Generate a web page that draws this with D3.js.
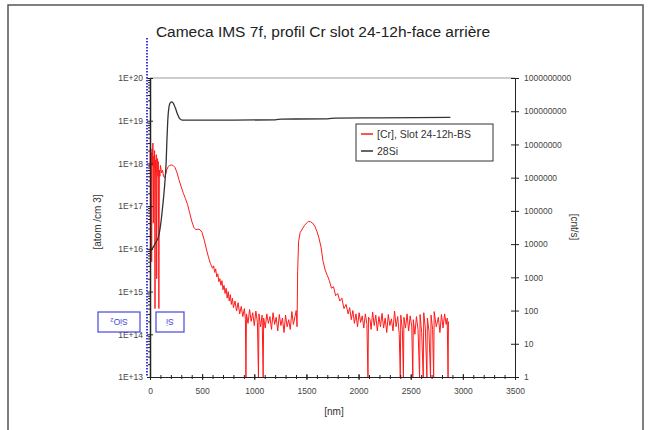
<!DOCTYPE html>
<html>
<head>
<meta charset="utf-8">
<script src="https://cdn.jsdelivr.net/npm/d3@7"></script>
<style>
  body { margin: 0; background: #fff; }
  svg { display: block; font-family: "Liberation Sans", Arial, sans-serif; }
</style>
</head>
<body>
<svg id="chart" width="651" height="430"></svg>
<script>
// depth [nm], Cr concentration [atom/cm3] (0 = no counts)
const crProfile = [
  [0, 8e17], [4, 2.5e18], [8, 3e17], [12, 1.8e18], [16, 5e15], [20, 2.2e18], [24, 9e17], [28, 3e18],
  [32, 4e16], [36, 1.5e18], [40, 8e17], [44, 2e18], [48, 4e14], [52, 1.2e18], [56, 6e17], [60, 1.6e18],
  [64, 2e15], [68, 9e17], [72, 1.3e18], [76, 5e17], [80, 1.1e18], [85, 4e14], [90, 7e17], [95, 5e17],
  [100, 9e17], [110, 6e17], [120, 7e17], [130, 5e17], [140, 4.6e17], [150, 5.5e17], [160, 7e17],
  [175, 8.5e17], [190, 9e17], [205, 9.2e17], [220, 9e17], [240, 8e17], [260, 6e17], [280, 4e17],
  [300, 2.8e17], [320, 2e17], [340, 1.5e17], [360, 1.1e17], [380, 7e16], [400, 4.5e16], [420, 3.2e16],
  [440, 2.8e16], [460, 2.9e16], [480, 2.8e16], [500, 2.4e16], [520, 1.6e16], [540, 1e16], [560, 6.5e15],
  [580, 4.5e15], [600, 3.5e15], [610, 4e15], [620, 2.8e15], [630, 3.4e15], [640, 2.2e15], [650, 2.6e15],
  [660, 1.7e15], [670, 2e15], [680, 1.4e15], [690, 1.8e15], [700, 1.1e15], [710, 1.4e15], [720, 9e14],
  [730, 1.2e15], [740, 7e14], [750, 1e15], [760, 6e14], [770, 8.5e14], [780, 5e14], [790, 7e14],
  [800, 4.2e14], [815, 6e14], [830, 3.5e14], [845, 5.5e14], [860, 3e14], [875, 4.5e14], [890, 2.6e14],
  [905, 4e14], [915, 2.2e14], [920, 0], [925, 3e14], [940, 1.8e14], [955, 3.8e14], [970, 2e14],
  [985, 3.2e14], [1000, 1.6e14], [1015, 3.5e14], [1030, 1.9e14], [1040, 0], [1045, 3e14], [1060, 1.5e14],
  [1075, 2.8e14], [1085, 0], [1090, 2.4e14], [1105, 1.4e14], [1120, 3e14], [1135, 1.8e14], [1150, 2.6e14],
  [1165, 1.3e14], [1180, 3.2e14], [1195, 1.7e14], [1210, 2.5e14], [1225, 1.2e14], [1240, 2.9e14],
  [1255, 1.6e14], [1270, 2.4e14], [1285, 1.1e14], [1300, 2.8e14], [1315, 1.5e14], [1330, 2.2e14],
  [1345, 1.3e14], [1360, 3.4e14], [1375, 1.7e14], [1390, 2.6e14], [1402, 3.6e14], [1410, 1.5e14],
  [1416, 3e15], [1425, 1.5e16], [1440, 2.4e16], [1460, 2.9e16], [1480, 3.5e16], [1500, 4e16],
  [1520, 4.4e16], [1540, 4.3e16], [1560, 4e16], [1580, 3.4e16], [1600, 2.6e16], [1620, 1.8e16],
  [1640, 1.1e16], [1660, 5e15], [1680, 3.2e15], [1700, 2.4e15], [1720, 1.8e15], [1740, 1.2e15],
  [1760, 1.3e15], [1780, 8e14], [1800, 9e14], [1820, 6e14], [1840, 7e14], [1860, 4e14], [1880, 5e14],
  [1900, 3e14], [1915, 4.2e14], [1930, 2.2e14], [1945, 3.6e14], [1960, 1.8e14], [1975, 3e14],
  [1990, 1.5e14], [2005, 3.2e14], [2020, 1.9e14], [2035, 2.7e14], [2050, 1.4e14], [2065, 3e14],
  [2080, 1.7e14], [2090, 0], [2095, 2.5e14], [2110, 2.2e14], [2120, 1.3e14], [2135, 3.3e14],
  [2150, 1.6e14], [2165, 2.8e14], [2180, 1.2e14], [2195, 2.6e14], [2210, 1.5e14], [2225, 3.1e14],
  [2240, 1.4e14], [2255, 2.4e14], [2270, 1.1e14], [2285, 2.9e14], [2300, 1.6e14], [2315, 2.3e14],
  [2330, 1.2e14], [2345, 3.5e14], [2360, 1.5e14], [2375, 2.6e14], [2390, 1e14], [2400, 0],
  [2405, 2.8e14], [2420, 1.3e14], [2430, 0], [2435, 2.5e14], [2450, 1.4e14], [2465, 3e14],
  [2480, 1.2e14], [2495, 2.7e14], [2510, 1.5e14], [2520, 0], [2525, 2.2e14], [2540, 1e14],
  [2555, 2.6e14], [2570, 1.3e14], [2585, 0], [2590, 2.9e14], [2605, 1.1e14], [2620, 0], [2625, 3.2e14],
  [2640, 1.4e14], [2655, 0], [2660, 2.4e14], [2675, 1.2e14], [2690, 0], [2695, 2.8e14], [2710, 1.3e14],
  [2720, 0], [2725, 3.4e14], [2745, 1.5e14], [2765, 2.5e14], [2780, 1.1e14], [2795, 2.9e14],
  [2810, 1.4e14], [2825, 3e14], [2840, 1.7e14], [2850, 2.4e14], [2858, 0], [2862, 2e14]
];

// depth [nm], 28Si counts [cnt/s]
const siProfile = [
  [0, 6000], [30, 8000], [60, 1.2e4], [80, 1.6e4], [100, 3.5e4], [115, 8.5e4], [130, 2.5e5],
  [145, 9e5], [155, 3e6], [162, 1.3e7], [170, 5e7], [180, 1.2e8], [195, 1.8e8], [210, 1.9e8],
  [225, 1.7e8], [245, 1.2e8], [265, 8e7], [285, 6e7], [310, 5.4e7], [500, 5.4e7], [800, 5.4e7],
  [1200, 5.5e7], [1260, 5.8e7], [1700, 5.9e7], [1780, 6.2e7], [2200, 6.3e7], [2880, 6.5e7]
];

const xTicks = [0, 500, 1000, 1500, 2000, 2500, 3000, 3500];
const leftTicks = [1e13, 1e14, 1e15, 1e16, 1e17, 1e18, 1e19, 1e20];
const rightTicks = [1, 10, 100, 1e3, 1e4, 1e5, 1e6, 1e7, 1e8, 1e9];
const seriesNames = ["[Cr], Slot 24-12h-BS", "28Si"];
const seriesColors = ["#ff1a1a", "#333333"];
const layerLabels = ["SiO\u2082", "Si"];

const plotLeft = 150, plotRight = 515, plotTop = 78, plotBottom = 377;

const svg = d3.select("#chart");

const x = d3.scaleLinear().domain([0, 3500]).range([plotLeft, plotRight]);
const yLeft = d3.scaleLog().domain([1e13, 1e20]).range([plotBottom, plotTop]);
const yRight = d3.scaleLog().domain([1, 1e9]).range([plotBottom, plotTop]);

// outer frame
svg.append("rect").attr("x", 8).attr("y", 5).attr("width", 635).attr("height", 440)
  .attr("fill", "none").attr("stroke", "#555").attr("stroke-width", 1.5);

// title
svg.append("text").attr("x", 323).attr("y", 37).attr("text-anchor", "middle")
  .attr("font-size", 15.5).attr("fill", "#222")
  .text("Cameca IMS 7f, profil Cr slot 24-12h-face arrière");

// plot top border
svg.append("line").attr("x1", plotLeft).attr("x2", plotRight).attr("y1", plotTop).attr("y2", plotTop)
  .attr("stroke", "#999").attr("stroke-width", 1);

// series
const clip = v => v > 0 ? v : 1e13;
const crLine = d3.line().x(d => x(d[0])).y(d => yLeft(clip(d[1])));
const siLine = d3.line().curve(d3.curveMonotoneX).x(d => x(d[0])).y(d => yRight(d[1]));

svg.append("path").attr("d", crLine(crProfile)).attr("fill", "none")
  .attr("stroke", seriesColors[0]).attr("stroke-width", 1).attr("stroke-linejoin", "round");
svg.append("path").attr("d", siLine(siProfile)).attr("fill", "none")
  .attr("stroke", seriesColors[1]).attr("stroke-width", 1.3);

// axes
const tickStyle = g => {
  g.selectAll("text").attr("fill", "#444").attr("font-size", 8.5)
    .attr("font-family", "Liberation Sans, Arial, sans-serif");
  g.select(".domain").attr("stroke", "#222");
  g.selectAll(".tick line").attr("stroke", "#222");
};

const xMinor = d3.range(0, 3501, 100);
svg.append("g").attr("transform", `translate(0,${plotBottom})`)
  .call(d3.axisBottom(x).tickValues(xMinor).tickSize(2).tickFormat(""))
  .call(g => g.select(".domain").remove())
  .call(g => g.selectAll("line").attr("stroke", "#222").attr("y1", -2));
svg.append("g").attr("transform", `translate(0,${plotBottom})`)
  .call(d3.axisBottom(x).tickValues(xTicks).tickSize(3).tickSizeOuter(0).tickPadding(8).tickFormat(d3.format("d")))
  .call(tickStyle)
  .call(g => g.selectAll(".tick line").attr("y1", -3));

const leftMinor = [];
for (let e = 13; e < 20; e++) for (let m = 2; m < 10; m++) leftMinor.push(m * Math.pow(10, e));
svg.append("g").attr("transform", `translate(${plotLeft},0)`)
  .call(d3.axisLeft(yLeft).tickValues(leftMinor).tickSize(2).tickFormat(""))
  .call(g => g.select(".domain").remove())
  .call(g => g.selectAll("line").attr("stroke", "#222"));
svg.append("g").attr("transform", `translate(${plotLeft},0)`)
  .call(d3.axisLeft(yLeft).tickValues(leftTicks).tickSize(3).tickSizeOuter(0).tickPadding(4)
    .tickFormat(d => "1E+" + Math.round(Math.log10(d))))
  .call(tickStyle)
  .call(g => g.selectAll(".tick line").attr("x2", 3).attr("x1", -3))
  .call(g => g.select(".domain").attr("stroke-width", 1.5));

svg.append("g").attr("transform", `translate(${plotRight},0)`)
  .call(d3.axisRight(yRight).tickValues(rightTicks).tickSize(4).tickSizeOuter(0).tickPadding(5)
    .tickFormat(d3.format("d")))
  .call(tickStyle)
  .call(g => g.selectAll(".tick line").attr("x1", -4));

// axis titles
svg.append("text").attr("transform", "translate(101,222) rotate(-90)").attr("text-anchor", "middle")
  .attr("font-size", 10).attr("fill", "#333").text("[atom /cm 3]");
svg.append("text").attr("transform", "translate(571,227) rotate(90)").attr("text-anchor", "middle")
  .attr("font-size", 10).attr("fill", "#333").text("[cnt/s]");
svg.append("text").attr("x", 334).attr("y", 415).attr("text-anchor", "middle")
  .attr("font-size", 10).attr("fill", "#333").text("[nm]");

// interface marker
svg.append("line").attr("x1", 147).attr("x2", 147).attr("y1", 38).attr("y2", plotBottom)
  .attr("stroke", "#3a3ae0").attr("stroke-width", 2).attr("stroke-dasharray", "1.5,1.5");

// layer boxes
const boxes = [{x0: 98, x1: 140}, {x0: 156, x1: 184}];
boxes.forEach((b, i) => {
  svg.append("rect").attr("x", b.x0).attr("y", 312).attr("width", b.x1 - b.x0).attr("height", 20)
    .attr("fill", "#fff").attr("stroke", "#4646dc").attr("stroke-width", 1.2);
  svg.append("text").attr("transform", `translate(${(b.x0 + b.x1) / 2},322) rotate(180)`)
    .attr("text-anchor", "middle").attr("dominant-baseline", "central")
    .attr("font-size", 8.5).attr("fill", "#4646dc").text(layerLabels[i]);
});

// legend
const legend = svg.append("g").attr("transform", "translate(356,124)");
legend.append("rect").attr("width", 137).attr("height", 37).attr("fill", "#fff")
  .attr("stroke", "#333").attr("stroke-width", 1);
seriesNames.forEach((name, i) => {
  const yy = 10 + i * 17;
  legend.append("line").attr("x1", 5).attr("x2", 17).attr("y1", yy).attr("y2", yy)
    .attr("stroke", seriesColors[i]).attr("stroke-width", 1.5);
  legend.append("text").attr("x", 21).attr("y", yy + 4).attr("font-size", 10.5)
    .attr("fill", "#333").text(name);
});
</script>
</body>
</html>
